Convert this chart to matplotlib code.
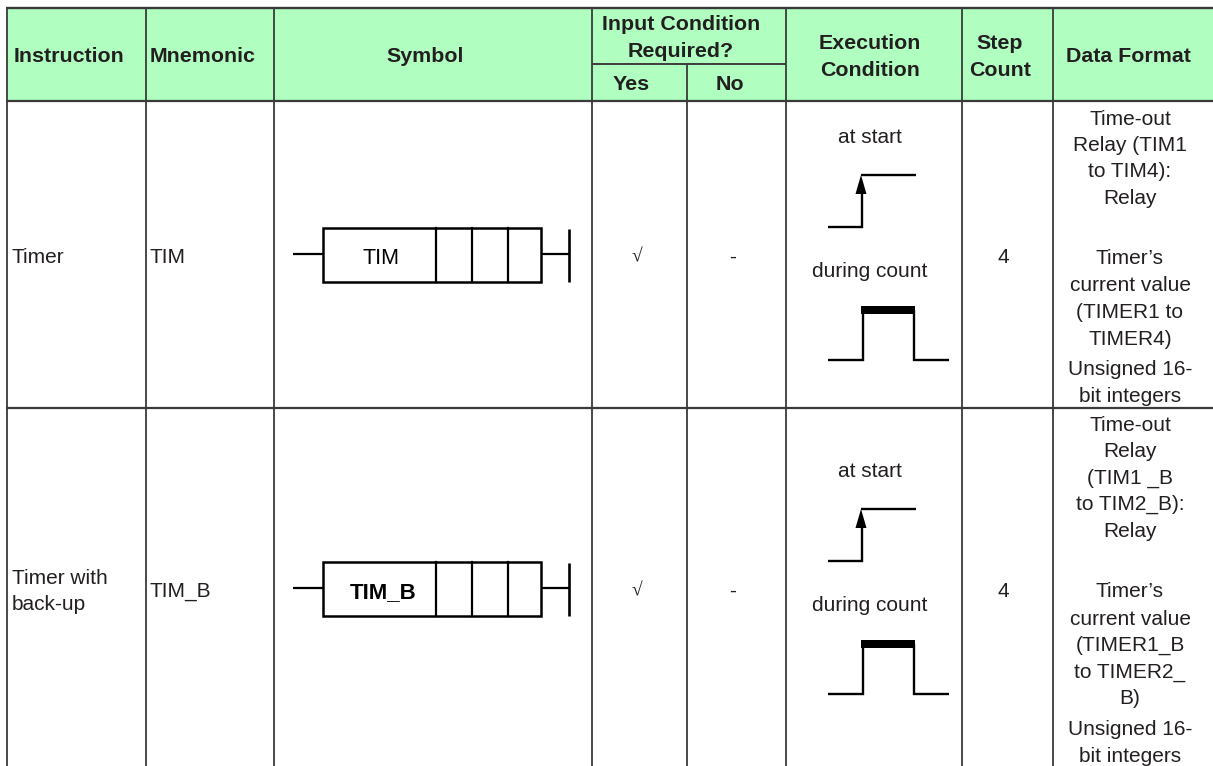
import matplotlib
matplotlib.use("Agg")
import matplotlib.pyplot as plt
from matplotlib.patches import Rectangle, Polygon

plt.rcParams['font.family'] = ['Liberation Sans', 'DejaVu Sans']

# Table contents
instructions = [["Timer"], ["Timer with", "back-up"]]
mnemonics = ["TIM", "TIM_B"]
input_yes = ["√", "√"]
input_no = ["-", "-"]
step_counts = ["4", "4"]
data_formats = [
    ["Time-out", "Relay (TIM1", "to TIM4):", "Relay", "Timer’s", "current value",
     "(TIMER1 to", "TIMER4)", "Unsigned 16-", "bit integers"],
    ["Time-out", "Relay", "(TIM1 _B", "to TIM2_B):", "Relay", "Timer’s", "current value",
     "(TIMER1_B", "to TIMER2_", "B)", "Unsigned 16-", "bit integers"],
]
format_y = [
    [118, 144, 170, 197, 257, 284, 311, 338, 368, 395],
    [424, 450, 477, 503, 530, 590, 618, 644, 671, 697, 728, 755],
]
col_x = [7, 146, 274, 592, 786, 962, 1053]
row_mid = [256, 590]

DARK = "#231f20"
GRID = "#3a3a3a"
HEAD = "#b0ffc0"
FS = 15
FS_BOLD = 15.4

fig = plt.figure(figsize=(12.13, 7.66), dpi=100)
ax = fig.add_axes([0, 0, 1, 1])
ax.set_xlim(0, 1213)
ax.set_ylim(766, 0)
ax.axis("off")

# header background
ax.add_patch(Rectangle((7, 8), 1206, 93, fc=HEAD, ec="none", zorder=0))

# grid
for x in col_x:
    ax.plot([x, x], [8, 766], color=GRID, lw=1.3, solid_capstyle="butt")
ax.plot([687, 687], [63.5, 766], color=GRID, lw=1.3, solid_capstyle="butt")
ax.plot([6, 1213], [8, 8], color=GRID, lw=1.7, solid_capstyle="butt")
ax.plot([6, 1213], [101, 101], color=GRID, lw=1.6, solid_capstyle="butt")
ax.plot([6, 1213], [408, 408], color=GRID, lw=1.6, solid_capstyle="butt")
ax.plot([592, 786], [63.5, 63.5], color=GRID, lw=1.4, solid_capstyle="butt")


def label(x, y, s, bold=False, ha="center", **kw):
    ax.text(x, y + 1.5, s, ha=ha, va="center", fontsize=FS_BOLD if bold else FS, color=DARK,
            fontweight="bold" if bold else "normal", **kw)


# header text
label(14, 55, "Instruction", bold=True, ha="left")
label(150, 55, "Mnemonic", bold=True, ha="left")
label(425, 55, "Symbol", bold=True)
label(681, 23, "Input Condition", bold=True)
label(681, 50, "Required?", bold=True)
label(631, 83, "Yes", bold=True)
label(730, 83, "No", bold=True)
label(870, 42, "Execution", bold=True)
label(870, 69, "Condition", bold=True)
label(1000, 42, "Step", bold=True)
label(1000, 69, "Count", bold=True)
label(1128, 55, "Data Format", bold=True)


def symbol(dy, name, bold):
    # ladder box
    ax.add_patch(Rectangle((323, 228 + dy), 218, 53.5, fc="white", ec="black", lw=1.8, zorder=2))
    for x in [436, 472, 508]:
        ax.plot([x, x], [228 + dy, 281.5 + dy], color="black", lw=1.6, zorder=3)
    ax.plot([293, 323], [254 + dy, 254 + dy], color="black", lw=1.6, solid_capstyle="butt")
    ax.plot([541, 569], [254 + dy, 254 + dy], color="black", lw=1.6, solid_capstyle="butt")
    ax.plot([569, 569], [229 + dy, 282 + dy], color="black", lw=1.9, solid_capstyle="butt")
    ax.text(381 + (2 if bold else 0), 258.5 + dy, name, ha="center", va="center",
            fontsize=16 if bold else 15.5, color="black",
            fontweight="bold" if bold else "normal", zorder=4)


def condition(dy):
    label(870, 136 + dy, "at start")
    label(870, 270 + dy, "during count")
    # rising edge with arrow
    ax.plot([828, 861.5, 861.5], [226.5 + dy, 226.5 + dy, 190 + dy], color="black", lw=1.7,
            solid_capstyle="butt", solid_joinstyle="miter")
    ax.plot([861, 916], [174.5 + dy, 174.5 + dy], color="black", lw=1.7, solid_capstyle="butt")
    ax.add_patch(Polygon([[861, 175 + dy], [855.5, 194 + dy], [866.5, 194 + dy]], fc="black", ec="none"))
    # pulse
    ax.plot([828, 862.5, 862.5], [360 + dy, 360 + dy, 310 + dy], color="black", lw=1.7,
            solid_capstyle="butt", solid_joinstyle="miter")
    ax.plot([914, 914, 949], [310 + dy, 360 + dy, 360 + dy], color="black", lw=1.7,
            solid_capstyle="butt", solid_joinstyle="miter")
    ax.add_patch(Rectangle((861, 306 + dy), 54, 8, fc="black", ec="none"))


# body rows
for i, mid in enumerate(row_mid):
    dy = mid - row_mid[0]
    lines = instructions[i]
    for j, s in enumerate(lines):
        label(12, mid + (j - (len(lines) - 1) / 2) * 27, s, ha="left")
    label(149, mid, mnemonics[i], ha="left")
    symbol(dy, mnemonics[i], i == 1)
    ax.text(637, mid + 1, input_yes[i], ha="center", va="center", fontsize=FS - 1, color=DARK,
            family=["Liberation Serif", "DejaVu Serif"])
    label(733, mid, input_no[i])
    condition(dy)
    label(1003, mid, step_counts[i])
    for s, y in zip(data_formats[i], format_y[i]):
        label(1130, y, s)

fig.savefig("out.png", dpi=100)
